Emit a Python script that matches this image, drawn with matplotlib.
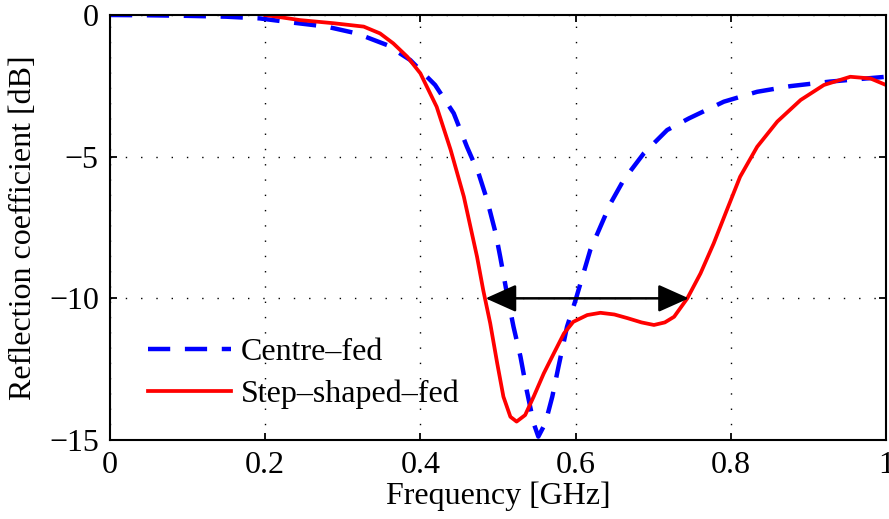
import matplotlib.pyplot as plt

plt.rcParams['font.family'] = ['Liberation Serif', 'DejaVu Serif']

# Centre-fed curve
f_centre = [0.0, 0.05, 0.1, 0.15, 0.193, 0.236, 0.279, 0.318, 0.357, 0.387, 0.419,
            0.443, 0.46, 0.475, 0.486, 0.497, 0.503, 0.512, 0.52, 0.529, 0.537,
            0.546, 0.552, 0.561, 0.57, 0.578, 0.589, 0.6, 0.619, 0.632, 0.645,
            0.662, 0.688, 0.718, 0.746, 0.791, 0.834, 0.877, 0.928, 1.0]
s_centre = [0.0, -0.01, -0.03, -0.06, -0.12, -0.27, -0.41, -0.65, -1.06, -1.59, -2.47,
            -3.47, -4.65, -5.59, -6.53, -7.7, -8.55, -9.9, -11.0, -12.06, -13.24,
            -14.41, -14.88, -14.41, -13.47, -12.41, -11.0, -10.06, -8.29, -7.47, -6.65,
            -5.82, -4.88, -4.06, -3.65, -3.06, -2.71, -2.51, -2.35, -2.18]

# Step-shaped-fed curve
f_step = [0.2, 0.245, 0.288, 0.327, 0.348, 0.365, 0.383, 0.4, 0.421, 0.439, 0.456,
          0.473, 0.481, 0.49, 0.499, 0.507, 0.516, 0.524, 0.535, 0.546, 0.559,
          0.572, 0.585, 0.597, 0.615, 0.632, 0.65, 0.667, 0.685, 0.701, 0.715,
          0.727, 0.744, 0.761, 0.778, 0.795, 0.812, 0.834, 0.86, 0.89, 0.92,
          0.954, 0.98, 1.0]
s_step = [0.0, -0.18, -0.29, -0.41, -0.65, -1.0, -1.47, -2.06, -3.24, -4.76, -6.41,
          -8.53, -9.71, -10.88, -12.29, -13.47, -14.18, -14.35, -14.12, -13.47, -12.65,
          -11.94, -11.24, -10.83, -10.59, -10.51, -10.57, -10.7, -10.85, -10.94, -10.85,
          -10.65, -10.0, -9.12, -8.06, -6.88, -5.71, -4.65, -3.76, -3.0, -2.47,
          -2.18, -2.24, -2.47]

band_lo, band_hi, band_level = 0.484, 0.746, -10

xticks = [0, 0.2, 0.4, 0.6, 0.8, 1]
xticklabels = ['0', '0.2', '0.4', '0.6', '0.8', '1']
yticks = [0, -5, -10, -15]
yticklabels = ['0', '\u22125', '\u221210', '\u221215']

fig = plt.figure(figsize=(8.89, 5.19), dpi=100)
ax = fig.add_axes([0.1237, 0.1522, 0.8729, 0.8189])

ax.plot(f_centre, s_centre, color='blue', lw=3.2, ls=(0, (5, 3.3)),
        label='Centre\u2013fed')
ax.plot(f_step, s_step, color='red', lw=2.7, label='Step\u2013shaped\u2013fed')

ax.annotate('', xy=(band_lo, band_level), xytext=(band_hi, band_level),
            arrowprops=dict(arrowstyle='<|-|>,head_length=1.9,head_width=0.85',
                            color='black', lw=1.8, shrinkA=0, shrinkB=0))

ax.set_xlim(0, 1)
ax.set_ylim(-15, 0)
ax.set_xticks(xticks)
ax.set_xticklabels(xticklabels)
ax.set_yticks(yticks)
ax.set_yticklabels(yticklabels)
ax.grid(True, color='black', ls=(0, (1, 10)), lw=1.0)
ax.tick_params(direction='in', length=5, width=1.3, top=True, right=True,
               labelsize=23, pad=8)
for sp in ax.spines.values():
    sp.set_linewidth(1.5)

ax.set_xlabel('Frequency [GHz]', fontsize=23, labelpad=1)
ax.set_ylabel('Reflection coefficient [dB]', fontsize=23, labelpad=8)

ax.legend(loc='lower left', bbox_to_anchor=(0.049, 0.072), frameon=False,
          fontsize=23, handlelength=2.6, handletextpad=0.3, labelspacing=0.4,
          borderpad=0, borderaxespad=0)

fig.savefig('out.png', dpi=100)
